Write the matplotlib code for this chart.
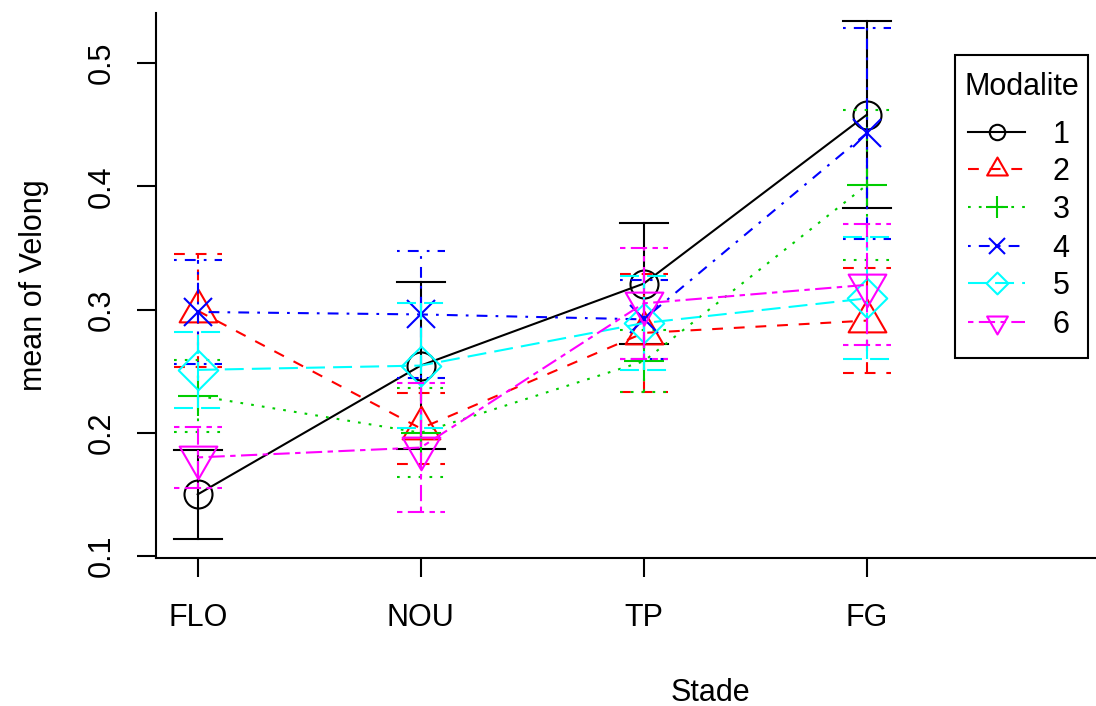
import matplotlib
matplotlib.use("Agg")
import matplotlib.pyplot as plt
from matplotlib.path import Path
from matplotlib.lines import Line2D
from matplotlib.patches import Rectangle

plt.rcParams['font.family'] = ['Liberation Sans', 'DejaVu Sans']
plt.rcParams['lines.scale_dashes'] = False

# data: mean of Velong per Stade, one list per Modalite, with error half-widths
stades = ["FLO", "NOU", "TP", "FG"]
modalites = ["1", "2", "3", "4", "5", "6"]

mean_1 = [0.150, 0.2545, 0.321, 0.458]
mean_2 = [0.299, 0.2035, 0.281, 0.291]
mean_3 = [0.230, 0.200, 0.258, 0.401]
mean_4 = [0.298, 0.296, 0.292, 0.443]
mean_5 = [0.251, 0.2545, 0.289, 0.309]
mean_6 = [0.180, 0.188, 0.305, 0.320]

err_1 = [0.036, 0.0675, 0.049, 0.076]
err_2 = [0.046, 0.0285, 0.048, 0.0426]
err_3 = [0.029, 0.036, 0.025, 0.061]
err_4 = [0.042, 0.0516, 0.032, 0.0855]
err_5 = [0.031, 0.0505, 0.038, 0.0495]
err_6 = [0.025, 0.052, 0.045, 0.049]

means = [mean_1, mean_2, mean_3, mean_4, mean_5, mean_6]
errs = [err_1, err_2, err_3, err_4, err_5, err_6]

colors = ["black", "red", "#00CD00", "blue", "cyan", "magenta"]

# R line types (in units of line width)
U = 1.95  # points per R dash unit
ltys = ['-',
        (0, [4 * U, 4 * U]),
        (0, [1 * U, 3 * U]),
        (0, [1 * U, 3 * U, 4 * U, 3 * U]),
        (0, [7 * U, 3 * U]),
        (0, [2 * U, 2 * U, 6 * U, 2 * U])]

# R style open symbols (pch 1..6), sizes in pixels of one R symbol unit
RPX = 14
PT = 0.72  # points per pixel at dpi 100
tri_up = Path([(0, 1.555), (1.3468, -0.7776), (-1.3468, -0.7776), (0, 1.555)], closed=True)
tri_dn = Path([(0, -1.555), (1.3468, 0.7776), (-1.3468, 0.7776), (0, -1.555)], closed=True)
diamond = Path([(0, 1.414), (1.414, 0), (0, -1.414), (-1.414, 0), (0, 1.414)], closed=True)
markers = ['o', tri_up, '+', 'x', diamond, tri_dn]
msizes = [2 * RPX * PT, 2 * 1.555 * RPX * PT, 2 * 1.414 * RPX * PT,
          2 * RPX * PT, 2 * 1.414 * RPX * PT, 2 * 1.555 * RPX * PT]

LW = 1.5

W, H = 1096, 706
fig = plt.figure(figsize=(W / 100, H / 100), dpi=100)


def fx(px):
    return px / W


def fy(py):
    return 1 - py / H


ax = fig.add_axes([fx(155.5), fy(558), fx(1096) - fx(155.5), fy(13) - fy(558)])

xs = list(range(1, len(stades) + 1))
cap = 0.108

for i in range(len(modalites)):
    m = means[i]
    e = errs[i]
    ax.plot(xs, m, color=colors[i], linestyle=ltys[i], lw=LW,
            marker=markers[i], markersize=msizes[i], markerfacecolor='none',
            markeredgecolor=colors[i], markeredgewidth=LW, clip_on=False)
    for x, v, s in zip(xs, m, e):
        ax.plot([x, x], [v - s, v + s], color=colors[i], linestyle=ltys[i], lw=LW)
        ax.plot([x - cap, x + cap], [v + s, v + s], color=colors[i], linestyle=ltys[i], lw=LW)
        ax.plot([x - cap, x + cap], [v - s, v - s], color=colors[i], linestyle=ltys[i], lw=LW)

ax.set_xlim(0.8108, 5.028)
ax.set_ylim(0.09838, 0.54057)
ax.set_xticks(xs)
ax.set_xticklabels(stades)
ax.set_yticks([0.1, 0.2, 0.3, 0.4, 0.5])
ax.set_yticklabels(["0.1", "0.2", "0.3", "0.4", "0.5"], rotation=90, va='center')
ax.tick_params(axis='both', labelsize=22, width=LW, length=13.7, color='black')
ax.tick_params(axis='x', pad=19)
ax.tick_params(axis='y', pad=14)
for side in ['top', 'right']:
    ax.spines[side].set_visible(False)
for side in ['left', 'bottom']:
    ax.spines[side].set_linewidth(LW)

fig.text(fx(710), fy(701), "Stade", ha='center', va='baseline', fontsize=22)
fig.text(fx(34), fy(285), "mean of Velong", ha='center', va='center',
         rotation=90, fontsize=22)

# legend
fig.add_artist(Rectangle((fx(955), fy(358)), fx(1088) - fx(955), fy(55) - fy(358),
                         transform=fig.transFigure, fill=False, ec='black', lw=LW))
fig.text(fx(1022), fy(95), "Modalite", ha='center', va='baseline', fontsize=22)
entry_y = [132, 169, 207, 246, 283, 322]
for i, lab in enumerate(modalites):
    yy = fy(entry_y[i])
    fig.add_artist(Line2D([fx(968), fx(1025)], [yy, yy], transform=fig.transFigure,
                          color=colors[i], linestyle=ltys[i], lw=LW))
    fig.add_artist(Line2D([fx(996.5)], [yy], transform=fig.transFigure,
                          color=colors[i], marker=markers[i], markersize=msizes[i] * 0.55,
                          markerfacecolor='none', markeredgewidth=LW, linestyle='none'))
    fig.text(fx(1061), fy(entry_y[i] + 11), lab, ha='center', va='baseline', fontsize=22)

fig.savefig("out.png", dpi=100)
